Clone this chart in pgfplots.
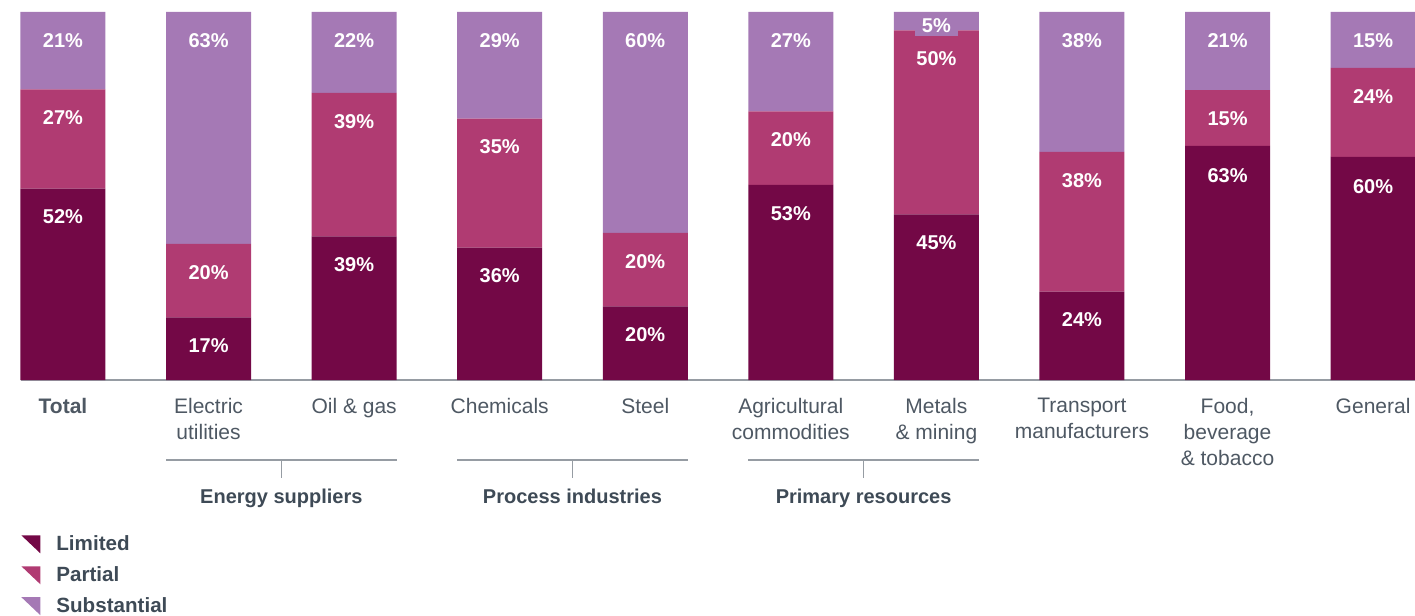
\documentclass[border=0pt]{standalone}
\usepackage{fontspec}
\setmainfont{Liberation Sans}
\usepackage{pgfplots}
\usepackage{pgfplotstable}
\pgfplotsset{compat=1.18}
\definecolor{limcol}{RGB}{115,8,70}
\definecolor{parcol}{RGB}{176,59,114}
\definecolor{subcol}{RGB}{165,121,181}
\definecolor{txtcol}{RGB}{78,88,99}
\definecolor{darktxt}{RGB}{62,74,86}
\definecolor{linecol}{RGB}{150,156,163}
\pgfplotstableread{
x lim limlab par parlab sub sublab
0 52 52 27 27 21 21
1 17 17 20 20 63 63
2 39 39 39 39 22 22
3 36 36 35 35 29 29
4 20 20 20 20 60 60
5 53 53 20 20 27 27
6 45 45 50 50 5 5
7 24 24 38 38 38 38
8 63.6 63 15.2 15 21.2 21
9 60.6 60 24.2 24 15.2 15
}\datatable
% label placed 14pt below the top of its segment (segment drawn 1.84pt per percent, node sits at its middle)
\newcommand{\seglabel}[1]{\raisebox{\dimexpr#1pt*92/100-17.6pt\relax}[0pt][0pt]{#1\%}}
\newcommand{\smallseglabel}[1]{\raisebox{\dimexpr#1pt*92/100-10.3pt\relax}[0pt][0pt]{\setlength{\fboxsep}{1.5pt}\colorbox{subcol}{\hspace{2pt}#1\%\hspace{2pt}}}}
\begin{document}
\begin{tikzpicture}
\begin{axis}[
  scale only axis,
  width=697pt, height=184pt,
  xmin=-0.2885, xmax=9.288,
  ymin=0, ymax=100,
  ybar stacked,
  bar width=42.5pt,
  axis x line=bottom,
  axis y line=none,
  x axis line style={-, draw=linecol, line width=0.8pt},
  xtick={0,...,9},
  xtick style={draw=none},
  xticklabels={\textbf{Total},Electric\\utilities,Oil \& gas,Chemicals,Steel,Agricultural\\commodities,Metals\\\& mining,Transport\\manufacturers,{Food,\\beverage\\\& tobacco},General},
  xticklabel style={align=center, font=\fontsize{10.5}{13}\selectfont, text=txtcol, anchor=north, yshift=-3.5pt},
  ytick=\empty,
  clip=false,
  point meta=explicit symbolic,
  nodes near coords={\seglabel{\pgfplotspointmeta}},
  nodes near coords style={anchor=center, text=white, font=\bfseries\fontsize{10}{12}\selectfont},
  legend cell align=left,
  legend style={at={(0,0)}, anchor=north west, yshift=-76pt, draw=none, fill=none,
    font=\bfseries\fontsize{10.3}{12}\selectfont, text=darktxt, inner sep=0pt,
    row sep=3.5pt, nodes={inner sep=1.5pt}},
]
\addplot[fill=limcol, draw=none,
  legend image code/.code={\fill[limcol] (0pt,4.5pt) -- (9.5pt,4.5pt) -- (9.5pt,-4.5pt) -- cycle;}]
  table[x=x, y=lim, meta=limlab] {\datatable};
\addlegendentry{\hspace{6.5pt}Limited}
\addplot[fill=parcol, draw=none,
  legend image code/.code={\fill[parcol] (0pt,4.5pt) -- (9.5pt,4.5pt) -- (9.5pt,-4.5pt) -- cycle;}]
  table[x=x, y=par, meta=parlab] {\datatable};
\addlegendentry{\hspace{6.5pt}Partial}
\addplot[fill=subcol, draw=none,
  nodes near coords={\ifnum\pgfplotspointmeta<10 \smallseglabel{\pgfplotspointmeta}\else\seglabel{\pgfplotspointmeta}\fi},
  legend image code/.code={\fill[subcol] (0pt,4.5pt) -- (9.5pt,4.5pt) -- (9.5pt,-4.5pt) -- cycle;}]
  table[x=x, y=sub, meta=sublab] {\datatable};
\addlegendentry{\hspace{6.5pt}Substantial}
% group brackets
\draw[linecol, line width=0.6pt] ([yshift=-40pt]axis cs:0.708,0) -- ([yshift=-40pt]axis cs:2.292,0);
\draw[linecol, line width=0.6pt] ([yshift=-40pt]axis cs:1.5,0) -- ([yshift=-49pt]axis cs:1.5,0);
\draw[linecol, line width=0.6pt] ([yshift=-40pt]axis cs:2.708,0) -- ([yshift=-40pt]axis cs:4.292,0);
\draw[linecol, line width=0.6pt] ([yshift=-40pt]axis cs:3.5,0) -- ([yshift=-49pt]axis cs:3.5,0);
\draw[linecol, line width=0.6pt] ([yshift=-40pt]axis cs:4.708,0) -- ([yshift=-40pt]axis cs:6.292,0);
\draw[linecol, line width=0.6pt] ([yshift=-40pt]axis cs:5.5,0) -- ([yshift=-49pt]axis cs:5.5,0);
\node[anchor=base, font=\bfseries\fontsize{10}{12}\selectfont, text=darktxt] at ([yshift=-61.5pt]axis cs:1.5,0) {Energy suppliers};
\node[anchor=base, font=\bfseries\fontsize{10}{12}\selectfont, text=darktxt] at ([yshift=-61.5pt]axis cs:3.5,0) {Process industries};
\node[anchor=base, font=\bfseries\fontsize{10}{12}\selectfont, text=darktxt] at ([yshift=-61.5pt]axis cs:5.5,0) {Primary resources};
\end{axis}
\pgfresetboundingbox
\path[use as bounding box] ([xshift=-10.5pt,yshift=6pt]current axis.north west) rectangle ([yshift=-118pt]current axis.south east);
\end{tikzpicture}
\end{document}
